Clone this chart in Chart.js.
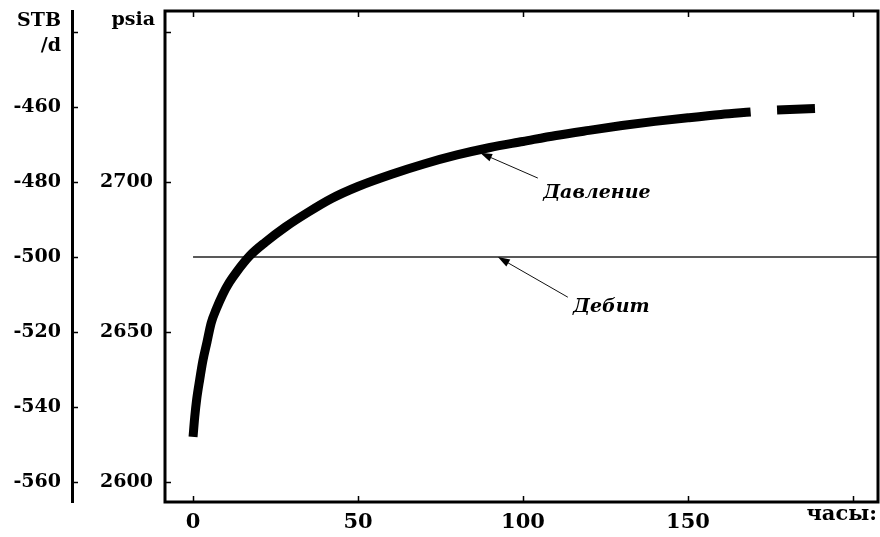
<!DOCTYPE html>
<html>
<head>
<meta charset="utf-8">
<script src="https://cdn.jsdelivr.net/npm/chart.js@4"></script>
<style>
    body { margin: 0; background: #fff; }
    #wrap { width: 880px; height: 537px; }
</style>
</head>
<body>
<div id="wrap"><canvas id="chart" width="880" height="537"></canvas></div>
<script>
// Данные графика
const hours = [0, 0.5, 1.1, 2, 3, 4.2, 5.5, 7, 9, 11, 13.2, 17.3, 22, 28, 35, 42, 50, 60, 70, 80, 90, 100, 110, 120, 130, 140, 150, 160, 169, 173, 177, 188.5];
const pressure = [2615, 2621.5, 2627.5, 2634, 2640.5, 2646.5, 2653, 2657.5, 2662.5, 2666.5, 2670, 2675.5, 2680, 2685, 2690, 2694.5, 2698.5, 2702.5, 2706, 2709, 2711.5, 2713.5, 2715.5, 2717.2, 2718.8, 2720.2, 2721.4, 2722.5, 2723.3, null, 2724, 2724.5];
const rateHours = [0, 210];
const rate = [-500, -500];

const xTicks = [0, 50, 100, 150, 200];
const xTickLabels = ['0', '50', '100', '150', ''];
const xTitle = 'часы:';
const pressureTicks = [2600, 2650, 2700, 2750];
const pressureTickLabels = ['2600', '2650', '2700', ''];
const rateTicks = [-560, -540, -520, -500, -480, -460, -440];
const rateTickLabels = ['-560', '-540', '-520', '-500', '-480', '-460', ''];

const FONT = 'DejaVu Serif';

// Рамка, внутренние штрихи, подписи осей и стрелки
const framePlugin = {
    id: 'frame',
    afterDraw(chart, args, opts) {
        const ctx = chart.ctx;
        const a = chart.chartArea;
        const sx = chart.scales.x;
        const sp = chart.scales.y;
        const sr = chart.scales.y2;
        const tick = 6;

        ctx.save();
        ctx.strokeStyle = '#000';
        ctx.lineWidth = 3;
        ctx.strokeRect(a.left, a.top, a.right - a.left, a.bottom - a.top);

        ctx.lineWidth = 1.5;
        ctx.beginPath();
        sx.ticks.forEach(t => {
            const px = Math.round(sx.getPixelForValue(t.value)) + 0.5;
            ctx.moveTo(px, a.bottom);
            ctx.lineTo(px, a.bottom - tick);
            ctx.moveTo(px, a.top);
            ctx.lineTo(px, a.top + tick);
        });
        sp.ticks.forEach(t => {
            const py = Math.round(sp.getPixelForValue(t.value)) + 0.5;
            ctx.moveTo(a.left, py);
            ctx.lineTo(a.left + tick, py);
        });
        sr.ticks.forEach(t => {
            const py = Math.round(sr.getPixelForValue(t.value)) + 0.5;
            ctx.moveTo(sr.right, py);
            ctx.lineTo(sr.right + tick, py);
        });
        ctx.stroke();

        // Заголовки осей
        ctx.fillStyle = '#000';
        ctx.textAlign = 'right';
        ctx.textBaseline = 'middle';
        ctx.font = 'bold 19px ' + FONT;
        ctx.fillText('STB', sr.right - 11, 21);
        ctx.fillText('/d', sr.right - 11, 46);
        ctx.fillText('psia', sp.right - 10, 20);

        ctx.font = 'bold 21px ' + FONT;
        ctx.textBaseline = 'alphabetic';
        ctx.fillText(xTitle, a.right - 1, sx.top + 18);

        // Стрелки с подписями
        ctx.textBaseline = 'middle';
        opts.notes.forEach(n => {
            const sy = chart.scales[n.axis];
            const x1 = sx.getPixelForValue(n.from[0]);
            const y1 = sy.getPixelForValue(n.from[1]);
            const x2 = sx.getPixelForValue(n.to[0]);
            const y2 = sy.getPixelForValue(n.to[1]);
            const ang = Math.atan2(y2 - y1, x2 - x1);

            ctx.strokeStyle = '#111';
            ctx.lineWidth = 1;
            ctx.beginPath();
            ctx.moveTo(x1, y1);
            ctx.lineTo(x2 - 8 * Math.cos(ang), y2 - 8 * Math.sin(ang));
            ctx.stroke();

            ctx.beginPath();
            ctx.moveTo(x2, y2);
            ctx.lineTo(x2 - 12 * Math.cos(ang) + 4 * Math.sin(ang), y2 - 12 * Math.sin(ang) - 4 * Math.cos(ang));
            ctx.lineTo(x2 - 12 * Math.cos(ang) - 4 * Math.sin(ang), y2 - 12 * Math.sin(ang) + 4 * Math.cos(ang));
            ctx.closePath();
            ctx.fill();

            ctx.font = 'bold italic 19px ' + FONT;
            ctx.textAlign = 'center';
            ctx.fillText(n.text, sx.getPixelForValue(n.at[0]), sy.getPixelForValue(n.at[1]));
        });
        ctx.restore();
    }
};

const tickFont = { family: FONT, size: 19, weight: 'bold' };

// Без автоматических отступов под подписи
function noPad(s) {
    s.paddingTop = 0;
    s.paddingBottom = 0;
    s.paddingLeft = 0;
    s.paddingRight = 0;
}

new Chart(document.getElementById('chart'), {
    type: 'line',
    data: {
        datasets: [{
            label: 'Давление',
            data: hours.map((h, i) => ({ x: h, y: pressure[i] })),
            yAxisID: 'y',
            borderColor: '#000',
            borderWidth: 9,
            borderCapStyle: 'butt',
            pointRadius: 0,
            cubicInterpolationMode: 'monotone',
            spanGaps: false
        }, {
            label: 'Дебит',
            data: rateHours.map((h, i) => ({ x: h, y: rate[i] })),
            yAxisID: 'y2',
            borderColor: '#222',
            borderWidth: 1.5,
            pointRadius: 0
        }]
    },
    options: {
        responsive: false,
        animation: false,
        layout: { padding: { left: 0, right: 2, top: 11, bottom: 0 } },
        plugins: {
            legend: { display: false },
            tooltip: { enabled: false },
            frame: {
                notes: [
                    { text: 'Давление', axis: 'y', from: [104.5, 2701.3], to: [87, 2709.7], at: [122.4, 2696.3] },
                    { text: 'Дебит', axis: 'y2', from: [113.6, -510.7], to: [92.4, -500], at: [126.8, -513.3] }
                ]
            }
        },
        scales: {
            x: {
                type: 'linear',
                min: -8.5,
                max: 207.6,
                grid: { display: false, drawTicks: false },
                border: { display: false },
                afterBuildTicks: s => { s.ticks = xTicks.map(v => ({ value: v })); },
                afterFit: s => { s.height = 35; noPad(s); },
                ticks: {
                    padding: 8,
                    color: '#000',
                    font: { family: FONT, size: 21, weight: 'bold' },
                    callback: v => xTickLabels[xTicks.indexOf(v)]
                }
            },
            y: {
                position: 'left',
                weight: 0,
                min: 2593.3,
                max: 2757,
                grid: { display: false, drawTicks: false },
                border: { display: false },
                afterBuildTicks: s => { s.ticks = pressureTicks.map(v => ({ value: v })); },
                afterFit: s => { s.width = 93; noPad(s); },
                ticks: {
                    padding: 12,
                    color: '#000',
                    font: tickFont,
                    callback: v => pressureTickLabels[pressureTicks.indexOf(v)]
                }
            },
            y2: {
                position: 'left',
                weight: 10,
                min: -565.3,
                max: -434.4,
                grid: { display: false, drawTicks: false },
                border: { display: true, width: 3, color: '#000' },
                afterBuildTicks: s => { s.ticks = rateTicks.map(v => ({ value: v })); },
                afterFit: s => { s.width = 72; noPad(s); },
                ticks: {
                    padding: 11,
                    color: '#000',
                    font: tickFont,
                    callback: v => rateTickLabels[rateTicks.indexOf(v)]
                }
            }
        }
    },
    plugins: [framePlugin]
});
</script>
</body>
</html>
